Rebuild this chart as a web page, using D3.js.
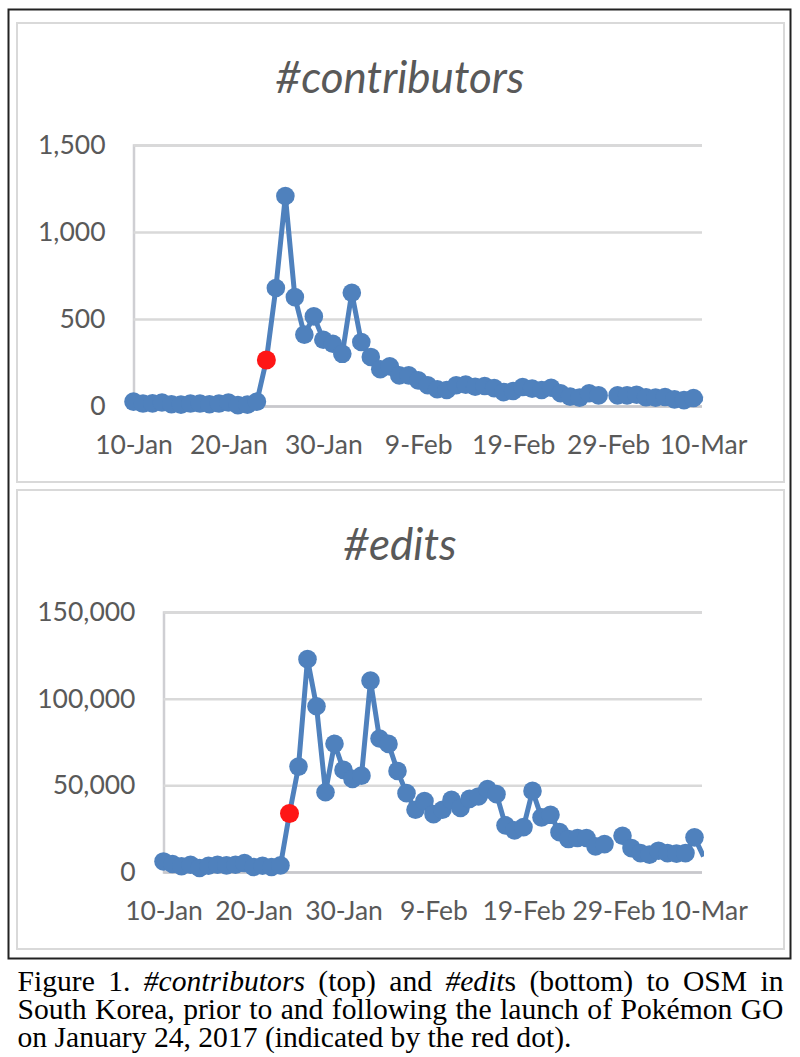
<!DOCTYPE html>
<html>
<head>
<meta charset="utf-8">
<script src="https://cdn.jsdelivr.net/npm/d3@7"></script>
<style>
  html, body { margin: 0; padding: 0; background: #fff; }
  svg { display: block; }
  .tick text { font-family: Lato, sans-serif; fill: #595959; }
</style>
</head>
<body>
<svg id="fig" width="800" height="1057"></svg>
<script>
var xLabels = ["10-Jan", "20-Jan", "30-Jan", "9-Feb", "19-Feb", "29-Feb", "10-Mar"];

// one value a day from 10-Jan, 29-Feb has no value
var contributors = [25, 14, 15, 20, 10, 8, 14, 14, 10, 14,
  20, 5, 8, 25, 264, 678, 1207, 626, 410, 515,
  381, 358, 300, 651, 368, 282, 211, 228, 176, 176,
  147, 119, 96, 92, 119, 123, 111, 115, 103, 80,
  86, 109, 100, 92, 105, 73, 54, 48, 73, 61,
  null, 61, 61, 65, 50, 48, 52, 38, 34, 46, 40];
var edits = [6100, 4600, 3300, 4200, 2300, 3600, 4200, 3800, 4200, 5200,
  2900, 3600, 2900, 3800, 33800, 60800, 122800, 95600, 46000, 74000,
  58900, 53700, 55600, 110400, 77000, 73900, 58300, 45500, 35900, 40900,
  33400, 35900, 41600, 36900, 42200, 43600, 47800, 44900, 26900, 24000,
  25900, 46800, 31500, 33000, 23000, 19000, 19600, 19600, 14800, 16100,
  null, 20900, 13800, 10900, 10000, 12300, 10900, 10600, 10900, 20000, 9000];

var launchIndex = 14;
var contributorTicks = [0, 500, 1000, 1500];
var editTicks = [0, 50000, 100000, 150000];

var svg = d3.select("#fig");

function drawChart(opts) {
  var x = d3.scaleLinear().domain([0, 60]).range([opts.left, opts.xEnd]);
  var y = d3.scaleLinear().domain([0, opts.ticks[opts.ticks.length - 1]]).range([opts.bottom, opts.top]);

  svg.append("rect").attr("x", 17).attr("y", opts.boxTop)
    .attr("width", 767).attr("height", opts.boxHeight)
    .attr("fill", "#fff").attr("stroke", "#d9d9d9").attr("stroke-width", 2);

  svg.append("text").attr("x", opts.titleX).attr("y", opts.titleY)
    .attr("text-anchor", "middle")
    .style("font-family", "Lato, sans-serif").style("font-style", "italic")
    .style("font-size", "44px").attr("fill", "#595959")
    .text(opts.title);

  // horizontal grid comes from the left axis
  var yAxis = d3.axisLeft(y).tickValues(opts.ticks).tickSize(opts.left - opts.right)
    .tickPadding(28).tickFormat(d3.format(","));
  var ya = svg.append("g").attr("transform", "translate(" + opts.left + ",0)").call(yAxis);
  ya.selectAll(".tick line").attr("stroke", "#d9d9d9").attr("stroke-width", 2.5)
    .attr("transform", "translate(" + (opts.right - opts.left) + ",0)")
    .attr("x2", opts.left - opts.right);
  ya.select(".domain").attr("stroke", "#cfcfd3").attr("stroke-width", 2.5).attr("fill", "none");
  ya.selectAll("text").style("font-size", "26.5px");
  ya.selectAll(".tick").filter(function(d) { return d === 0; }).select("line").attr("stroke", "#c8c8cc");

  var xAxis = d3.axisBottom(x).tickValues(xLabels.map(function(d, i) { return i * 10; }))
    .tickSize(0).tickPadding(29).tickFormat(function(d) { return xLabels[d / 10]; });
  var xa = svg.append("g").attr("transform", "translate(0," + opts.bottom + ")").call(xAxis);
  xa.select(".domain").remove();
  xa.selectAll("text").style("font-size", "26.5px");

  var clipId = "clip-" + opts.title.slice(1);
  svg.append("clipPath").attr("id", clipId).append("rect")
    .attr("x", 0).attr("y", opts.top - 20)
    .attr("width", opts.right + 2).attr("height", opts.bottom - opts.top + 40);

  var line = d3.line()
    .defined(function(d) { return d !== null; })
    .x(function(d, i) { return x(i); })
    .y(function(d) { return y(d); });

  var points = opts.values.map(function(v, i) { return {v: v, i: i}; })
    .filter(function(d) { return d.v !== null && d.i < 60; });

  svg.append("path").datum(opts.values)
    .attr("clip-path", "url(#" + clipId + ")")
    .attr("d", line).attr("fill", "none")
    .attr("stroke", "#4f81bd").attr("stroke-width", 5);

  svg.append("g").selectAll("circle").data(points).join("circle")
    .attr("cx", function(d) { return x(d.i); })
    .attr("cy", function(d) { return y(d.v); })
    .attr("r", function(d) { return d.i === launchIndex ? 9.5 : 9.3; })
    .attr("fill", function(d) { return d.i === launchIndex ? "#fe1616" : "#4f81bd"; });

  // red dot has to sit on top of the neighbours
  svg.selectAll("circle").filter(function(d) { return d.i === launchIndex; }).raise();
}

svg.append("rect").attr("x", 8.5).attr("y", 9.5).attr("width", 782).attr("height", 949)
  .attr("fill", "none").attr("stroke", "#222").attr("stroke-width", 2);

drawChart({title: "#contributors", values: contributors, ticks: contributorTicks,
  left: 133.5, right: 702, xEnd: 703, top: 145, bottom: 406,
  boxTop: 23, boxHeight: 459, titleX: 400, titleY: 93});
drawChart({title: "#edits", values: edits, ticks: editTicks,
  left: 163.5, right: 702, xEnd: 703.5, top: 612, bottom: 872,
  boxTop: 490, boxHeight: 459, titleX: 400, titleY: 560});

var caption = [
  [["Figure 1. ", "normal"], ["#contributors", "italic"], [" (top) and ", "normal"], ["#edit", "italic"], ["s (bottom) to OSM in", "normal"]],
  [["South Korea, prior to and following the launch of Pokémon GO", "normal"]],
  [["on January 24, 2017 (indicated by the red dot).", "normal"]]
];
var captionY = [990.5, 1018.5, 1046.5];

caption.forEach(function(parts, li) {
  var t = svg.append("text").attr("x", 17.5).attr("y", captionY[li])
    .style("font-family", "'Liberation Serif', serif").style("font-size", "29.6px").attr("fill", "#000");
  parts.forEach(function(p) {
    t.append("tspan").style("font-style", p[1]).text(p[0]);
  });
  // first two lines are justified to the column width
  if(li < 2) {
    var words = parts.map(function(p) { return p[0]; }).join("").split(" ").length - 1;
    var extra = (766 - t.node().getComputedTextLength()) / words;
    t.style("word-spacing", extra + "px");
  }
});
</script>
</body>
</html>
